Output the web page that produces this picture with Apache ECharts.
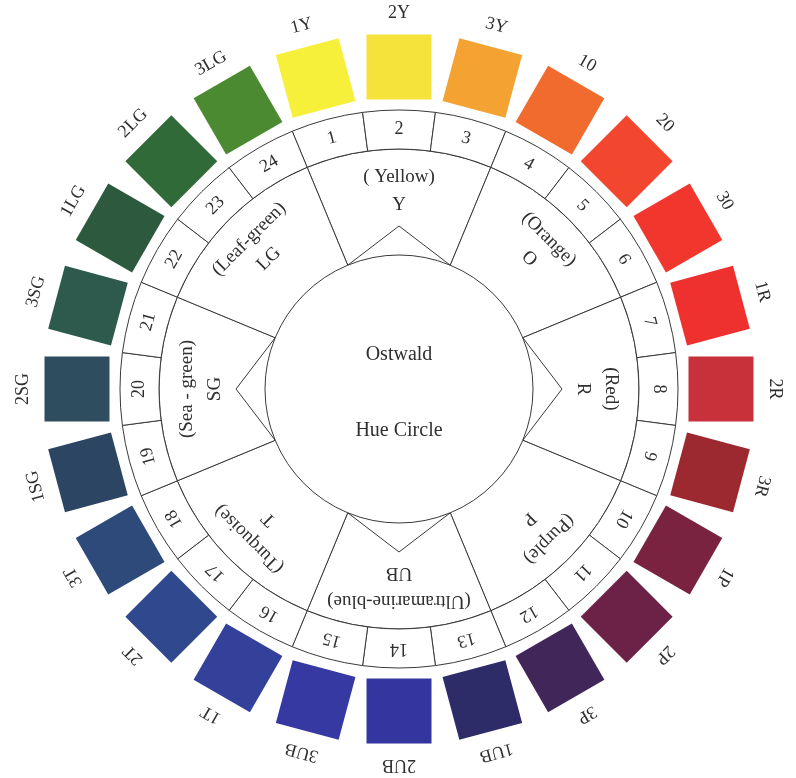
<!DOCTYPE html>
<html>
<head>
<meta charset="utf-8">
<script src="https://cdn.jsdelivr.net/npm/echarts@6/dist/echarts.min.js"></script>
<style>
html,body{margin:0;padding:0;background:#fff;}
#c{width:796px;height:778px;}
</style>
</head>
<body>
<div id="c"></div>
<script>
// ---- data ----
const hueNumbers = ['1','2','3','4','5','6','7','8','9','10','11','12','13','14','15','16','17','18','19','20','21','22','23','24'];
const swatchLabels = ['1Y','2Y','3Y','10','20','30','1R','2R','3R','1P','2P','3P','1UB','2UB','3UB','1T','2T','3T','1SG','2SG','3SG','1LG','2LG','3LG'];
const swatchColors = ['#f6f03a','#f5e23a','#f4a232','#f26b2e','#f2472e','#f0362d','#ee302f','#c8303a','#9c2830','#7a2340','#6c2146','#412759','#2e2b69','#3535a0','#3739a3','#34419a','#30498e','#2e4a7a','#2c4562','#2e4d5e','#2d5a4c','#2d5a3f','#316a39','#4c8a32'];
const sectorCodes = ['Y','O','R','P','UB','T','SG','LG'];
const sectorNames = ['( Yellow)','(Orange)','(Red)','(Purple)','(Ultramarine-blue)','(Turquoise)','(Sea - green)','(Leaf-green)'];
const primarySectors = ['Y','R','UB','SG'];
const centerTitle = ['Ostwald','Hue Circle'];

// ---- layout (radius units = px) ----
const RAD = {inner:134, sectorOuter:240, ringOuter:279, apex:163, nameR:212, codeR:184,
             swatchMid:322, swatchSide:65, swatchLabel:376, titleTop:34, titleBottom:42};
const LINE = '#3a3a3a', TEXT = '#2f2f2f';
const FONT = '"Liberation Serif","DejaVu Serif",serif';
const HUES_PER_SECTOR = hueNumbers.length / sectorCodes.length;

function C(api, r, a){ return api.coord([r, a]); }
function ctr(api){ return api.coord([0, 0]); }
function sectorEl(api, r0, r1, a0, a1){
  const c = ctr(api);
  const p0 = C(api, r0, a0), p1 = C(api, r1, a1);
  let s = Math.atan2(p0[1]-c[1], p0[0]-c[0]);
  let e = Math.atan2(p1[1]-c[1], p1[0]-c[0]);
  if (e <= s) e += Math.PI*2;
  return {type:'sector', shape:{cx:c[0], cy:c[1],
      r0:Math.hypot(p0[0]-c[0], p0[1]-c[1]), r:Math.hypot(p1[0]-c[0], p1[1]-c[1]),
      startAngle:s, endAngle:e, clockwise:true},
    style:{fill:'#fff', stroke:LINE, lineWidth:1}};
}
function tangentRot(api, p){
  const c = ctr(api);
  return -(Math.atan2(p[1]-c[1], p[0]-c[0]) + Math.PI/2);
}
function textEl(api, r, a, text, size, rotate){
  const p = C(api, r, a);
  return {type:'text', x:p[0], y:p[1], rotation: rotate ? tangentRot(api, p) : 0,
    style:{text:text, fill:TEXT, fontSize:size, fontFamily:FONT, align:'center', verticalAlign:'middle'}};
}

const chart = echarts.init(document.getElementById('c'));
const option = {
  animation:false,
  backgroundColor:'#fff',
  polar:{center:[399,389], radius:400},
  angleAxis:{type:'value', min:0, max:hueNumbers.length, startAngle:112.5, clockwise:true, show:false,
             axisLine:{show:false}, splitLine:{show:false}, axisTick:{show:false}, axisLabel:{show:false}},
  radiusAxis:{type:'value', min:0, max:400, show:false,
             axisLine:{show:false}, splitLine:{show:false}, axisTick:{show:false}, axisLabel:{show:false}},
  series:[
    { // main 8 hue sectors with triangles and names
      type:'custom', coordinateSystem:'polar', silent:true,
      data: sectorCodes.map((c,i)=>[RAD.codeR, i*HUES_PER_SECTOR + HUES_PER_SECTOR/2]),
      renderItem:function(params, api){
        const i = params.dataIndex;
        const a0 = i*HUES_PER_SECTOR, a1 = a0 + HUES_PER_SECTOR, am = (a0+a1)/2;
        const children = [sectorEl(api, RAD.inner, RAD.sectorOuter, a0, a1)];
        if (primarySectors.indexOf(sectorCodes[i]) >= 0) {
          const tri = [C(api, RAD.inner, a0), C(api, RAD.apex, am), C(api, RAD.inner, a1)];
          children.push({type:'polyline', shape:{points:tri}, style:{fill:null, stroke:LINE, lineWidth:1}});
        }
        children.push(textEl(api, RAD.nameR, am, sectorNames[i], 19, true));
        children.push(textEl(api, RAD.codeR, am, sectorCodes[i], 19, true));
        return {type:'group', children:children};
      }
    },
    { // numbered ring cells
      type:'custom', coordinateSystem:'polar', silent:true,
      data: hueNumbers.map((h,i)=>[(RAD.sectorOuter+RAD.ringOuter)/2, i+0.5]),
      renderItem:function(params, api){
        const i = params.dataIndex;
        return {type:'group', children:[
          sectorEl(api, RAD.sectorOuter, RAD.ringOuter, i, i+1),
          textEl(api, (RAD.sectorOuter+RAD.ringOuter)/2, i+0.5, hueNumbers[i], 18, true)
        ]};
      }
    },
    { // colour swatches with labels
      type:'custom', coordinateSystem:'polar', silent:true,
      data: swatchLabels.map((l,i)=>[RAD.swatchMid, i+0.5]),
      renderItem:function(params, api){
        const i = params.dataIndex;
        const p = C(api, RAD.swatchMid, i+0.5);
        const q0 = C(api, RAD.swatchMid - RAD.swatchSide/2, i+0.5), q1 = C(api, RAD.swatchMid + RAD.swatchSide/2, i+0.5);
        const s = Math.hypot(q1[0]-q0[0], q1[1]-q0[1]);
        return {type:'group', children:[
          {type:'rect', x:p[0], y:p[1], rotation:tangentRot(api, p),
           shape:{x:-s/2, y:-s/2, width:s, height:s}, style:{fill:swatchColors[i]}},
          textEl(api, RAD.swatchLabel, i+0.5, swatchLabels[i], 18, true)
        ]};
      }
    },
    { // centre title
      type:'custom', coordinateSystem:'polar', silent:true,
      data: centerTitle.map((t,i)=>[i===0 ? RAD.titleTop : RAD.titleBottom, i===0 ? 1.5 : 13.5]),
      renderItem:function(params, api){
        const i = params.dataIndex;
        return textEl(api, api.value(0), api.value(1), centerTitle[i], 20, false);
      }
    }
  ]
};
chart.setOption(option);
</script>
</body>
</html>
